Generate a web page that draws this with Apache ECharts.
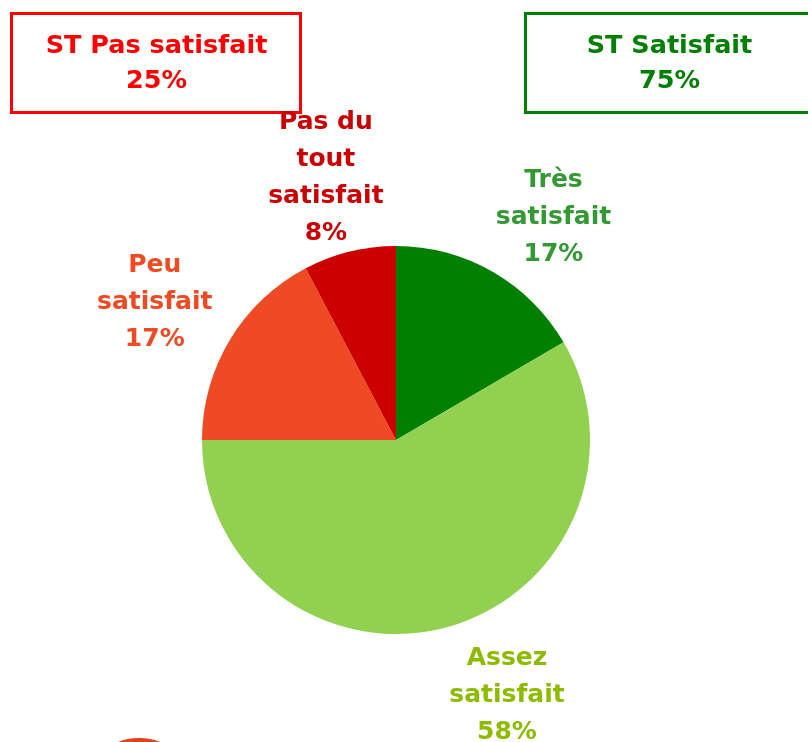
<!DOCTYPE html>
<html>
<head>
<meta charset="utf-8">
<script src="https://cdn.jsdelivr.net/npm/echarts@6/dist/echarts.min.js"></script>
<style>
  html, body { margin: 0; padding: 0; background: #fff; }
  #chart { width: 808px; height: 742px; }
</style>
</head>
<body>
<div id="chart"></div>
<script>
// données
var categories = ['Très\nsatisfait', 'Assez\nsatisfait', 'Peu\nsatisfait', 'Pas du\ntout\nsatisfait'];
var shares = [16.6, 58.4, 17.3, 7.7];
var sliceColors = ['#008000', '#92D050', '#EE4B24', '#CC0000'];
var labelColors = ['#339933', '#8DBB00', '#EE4B24', '#CC0000'];
var groupNames = ['ST Pas satisfait', 'ST Satisfait'];
var groupShares = [25, 75];

var FONT = '"DejaVu Sans", Verdana, sans-serif';
var CX = 396, CY = 440, R = 194, LABEL_R = 276;
// petits décalages des étiquettes (comme dans l'original)
var labelNudge = [[20, 17], [39, -11], [-5, 5], [-4, 6]];

var total = shares.reduce(function (a, b) { return a + b; }, 0);
// angle du milieu de chaque part (depuis le haut, sens horaire)
var midAngles = [];
var acc = 0;
for (var i = 0; i < shares.length; i++) {
  midAngles.push((acc + shares[i] / 2) / total * Math.PI * 2);
  acc += shares[i];
}

var chart = echarts.init(document.getElementById('chart'));
var option = {
  animation: false,
  backgroundColor: '#fff',
  series: [{
    type: 'pie',
    center: [CX, CY],
    radius: [0, R],
    startAngle: 90,
    clockwise: true,
    silent: true,
    itemStyle: { borderWidth: 0 },
    labelLine: { show: false },
    label: {
      show: true,
      position: 'outside',
      fontFamily: FONT,
      fontWeight: 'bold',
      fontSize: 25,
      lineHeight: 37,
      align: 'center',
      formatter: function (p) {
        return p.name + '\n' + Math.round(p.percent) + '%';
      }
    },
    labelLayout: function (params) {
      var k = params.dataIndex;
      var a = midAngles[k];
      return {
        x: CX + LABEL_R * Math.sin(a) + labelNudge[k][0],
        y: CY - LABEL_R * Math.cos(a) + labelNudge[k][1],
        align: 'center',
        verticalAlign: 'middle'
      };
    },
    data: categories.map(function (c, i) {
      return {
        name: c,
        value: shares[i],
        itemStyle: { color: sliceColors[i] },
        label: { color: labelColors[i] }
      };
    })
  }],
  graphic: [
    {
      type: 'group', left: 10, top: 12,
      children: [
        { type: 'rect', shape: { x: 0, y: 0, width: 289, height: 99 },
          style: { fill: '#fff', stroke: '#FF0000', lineWidth: 3 } },
        { type: 'text', x: 145, y: 50,
          style: { text: groupNames[0] + '\n' + groupShares[0] + '%', fill: '#FF0000',
            font: 'bold 25.5px ' + FONT, lineHeight: 35, align: 'center', verticalAlign: 'middle' } }
      ]
    },
    {
      type: 'group', left: 524, top: 12,
      children: [
        { type: 'rect', shape: { x: 0, y: 0, width: 284, height: 99 },
          style: { fill: '#fff', stroke: '#008000', lineWidth: 3 } },
        { type: 'text', x: 144, y: 50,
          style: { text: groupNames[1] + '\n' + groupShares[1] + '%', fill: '#008000',
            font: 'bold 25.5px ' + FONT, lineHeight: 35, align: 'center', verticalAlign: 'middle' } }
      ]
    },
    {
      type: 'ellipse', left: 104, top: 738, silent: true,
      shape: { cx: 35, cy: 20, rx: 35, ry: 20 },
      style: { fill: '#E0431E' }
    }
  ]
};
chart.setOption(option);
window.addEventListener('resize', function () {
  setTimeout(function () { chart.resize(); }, 200);
});
</script>
</body>
</html>
